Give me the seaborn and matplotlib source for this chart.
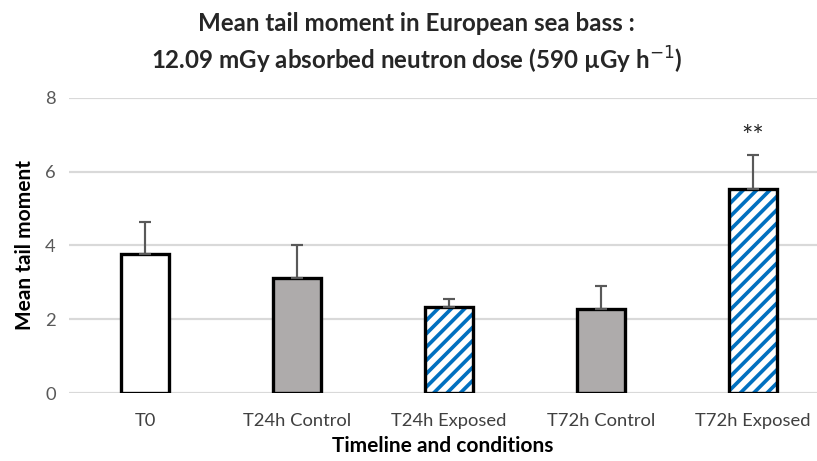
import matplotlib
matplotlib.use("Agg")
import matplotlib.pyplot as plt
import seaborn as sns
import pandas as pd

# Comet assay results per sampling time / condition
conditions = ["T0", "T24h Control", "T24h Exposed", "T72h Control", "T72h Exposed"]
mean_tail = [3.77, 3.11, 2.34, 2.29, 5.53]
sem_upper = [0.88, 0.90, 0.20, 0.61, 0.93]
groups = ["baseline", "control", "exposed", "control", "exposed"]
significance = ["", "", "", "", "**"]

y_ticks = [0, 2, 4, 6, 8]

fill_colors = {"baseline": "white", "control": "#AEAAAA", "exposed": "white"}
stripe_blue = "#0070C0"

sns.set_theme(style="white")
plt.rcParams["font.family"] = ["Lato", "DejaVu Sans"]
plt.rcParams["hatch.linewidth"] = 2.2

df = pd.DataFrame({"condition": conditions, "tail": mean_tail, "group": groups})

DPI = 120
fig = plt.figure(figsize=(817 / DPI, 461 / DPI), dpi=DPI)
ax = fig.add_axes([0.0845, 0.1475, 0.9155, 0.64])

# filled bars (hatch drawn in blue, no outline yet)
sns.barplot(data=df, x="condition", y="tail", hue="group", palette=fill_colors,
            dodge=False, width=0.32, errorbar=None, legend=False,
            linewidth=0, ax=ax, zorder=2)

# stripe the exposed groups, locating each patch by its category position
for patch in list(ax.patches):
    idx = int(round(patch.get_x() + patch.get_width() / 2))
    if groups[idx] == "exposed":
        patch.set_hatch("///")
        patch.set_edgecolor(stripe_blue)
        patch.set_linewidth(0)

# black outlines on top
sns.barplot(data=df, x="condition", y="tail", width=0.32, errorbar=None,
            fill=False, edgecolor="black", linewidth=2.0, ax=ax, zorder=3)

# upper error bars
ax.errorbar(range(len(conditions)), mean_tail,
            yerr=[[0] * len(sem_upper), sem_upper],
            fmt="none", ecolor="#595959", elinewidth=1.3, capsize=3.5,
            capthick=1.3, zorder=4)

for i, (m, e, s) in enumerate(zip(mean_tail, sem_upper, significance)):
    if s:
        ax.text(i, m + e + 0.12, s, ha="center", va="bottom",
                fontsize=16, color="#222222")

ax.set_ylim(0, 8)
ax.set_xlim(-0.5, 4.42)
ax.set_yticks(y_ticks)
ax.yaxis.grid(True, color="#D9D9D9", linewidth=1.3, zorder=0)
ax.set_axisbelow(True)
for side in ["left", "right", "top", "bottom"]:
    ax.spines[side].set_visible(False)
ax.tick_params(axis="y", length=0, labelsize=11, colors="#595959", pad=8)
ax.tick_params(axis="x", length=0, labelsize=11, colors="#404040", pad=12)

ax.set_xlabel("Timeline and conditions", fontsize=12.5, fontweight="bold",
              color="black", labelpad=4)
ax.set_ylabel("Mean tail moment", fontsize=12.5, fontweight="bold",
              color="black", labelpad=6)

fig.text(0.51, 0.975,
         "Mean tail moment in European sea bass :\n"
         "12.09 mGy absorbed neutron dose (590 µGy h$^{-1}$)",
         ha="center", va="top", fontsize=14.5, fontweight="bold",
         linespacing=1.4)

fig.savefig("out.png", dpi=DPI)
